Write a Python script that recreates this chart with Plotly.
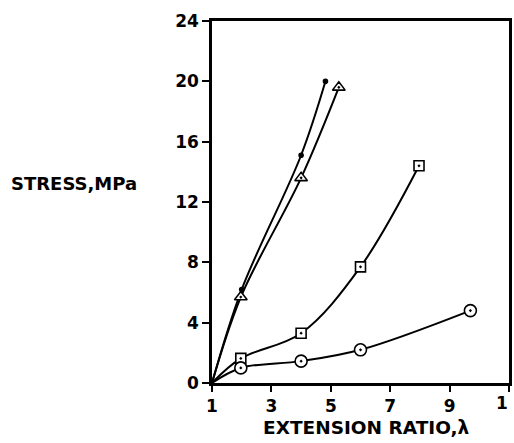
import plotly.graph_objects as go

# Data
dot_x = [1, 2, 4, 4.82]
dot_y = [0, 6.2, 15.1, 20.0]

tri_x = [1, 1.97, 4.0, 5.27]
tri_y = [0, 5.7, 13.6, 19.6]

sq_x = [1, 1.97, 4.0, 6.0, 7.97]
sq_y = [0, 1.63, 3.3, 7.7, 14.4]

cir_x = [1, 1.97, 4.0, 6.0, 9.7]
cir_y = [0, 1.0, 1.45, 2.2, 4.8]

x_ticks = [1, 3, 5, 7, 9, 11]
x_ticktext = ["1", "3", "5", "7", "9", ""]
x_last_tick = 11
x_last_text = "1"   # the reference shows only the first digit at the edge
y_ticks = [0, 4, 8, 12, 16, 20, 24]

FONT = "DejaVu Sans"
fig = go.Figure()

series = [
    (dot_x, dot_y, "circle", 4, "black"),
    (tri_x, tri_y, "triangle-up-dot", 11, "white"),
    (sq_x, sq_y, "square-dot", 10, "white"),
    (cir_x, cir_y, "circle-dot", 12, "white"),
]
for xs, ys, sym, sz, fill in series:
    fig.add_trace(go.Scatter(
        x=xs, y=ys, mode="lines",
        line=dict(shape="spline", smoothing=1.0, color="black", width=2),
        showlegend=False, hoverinfo="skip"))
    fig.add_trace(go.Scatter(
        x=xs[1:], y=ys[1:], mode="markers",
        marker=dict(symbol=sym, size=sz, color=fill,
                    line=dict(color="black", width=1.6)),
        showlegend=False))

fig.update_xaxes(
    range=[1, 11], tickvals=x_ticks, ticktext=x_ticktext,
    showgrid=False, zeroline=False,
    showline=True, linecolor="black", linewidth=2.5, mirror=True,
    ticks="outside", ticklen=6, tickwidth=2, tickcolor="black",
    tickfont=dict(family=FONT, size=17, color="black", weight="bold"),
)
fig.update_yaxes(
    range=[0, 24], tickvals=y_ticks,
    showgrid=False, zeroline=False,
    showline=True, linecolor="black", linewidth=2.5, mirror=True,
    ticks="outside", ticklen=7, tickwidth=2, tickcolor="black",
    tickfont=dict(family=FONT, size=17, color="black", weight="bold"),
)
# last x tick label at the right edge
fig.add_annotation(
    text=x_last_text, x=x_last_tick, xref="x", y=0, yref="paper",
    xanchor="right", yanchor="top", yshift=-8, xshift=1, showarrow=False,
    font=dict(family=FONT, size=17, color="black", weight="bold"))
# x axis title
fig.add_annotation(
    text="EXTENSION RATIO,λ", xref="paper", yref="paper",
    x=0.517, y=-0.124, xanchor="center", yanchor="middle", showarrow=False,
    font=dict(family=FONT, size=18.5, color="black", weight="bold"))
# y axis title
fig.add_annotation(
    text="STRESS,MPa", xref="paper", yref="paper",
    x=-0.685, y=0.55, xanchor="left", yanchor="middle", showarrow=False,
    font=dict(family=FONT, size=18, color="black", weight="bold"))

fig.update_layout(
    width=514, height=443,
    margin=dict(l=212, r=2, t=21, b=60),
    paper_bgcolor="white", plot_bgcolor="white",
)
fig.write_html("out.html")
